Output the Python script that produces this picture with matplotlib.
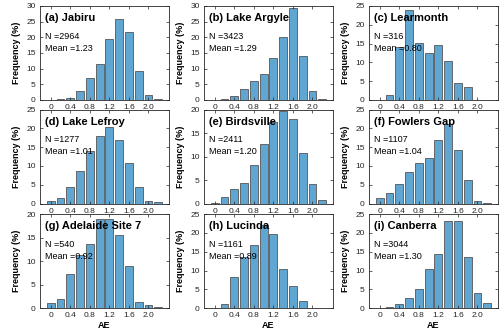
import matplotlib
matplotlib.use("Agg")
import matplotlib.pyplot as plt
import numpy as np

plt.rcParams['font.family'] = ['Liberation Sans', 'DejaVu Sans']

ae_bins = [0.0, 0.2, 0.4, 0.6, 0.8, 1.0, 1.2, 1.4, 1.6, 1.8, 2.0, 2.2]
x_ticks = [0, 0.4, 0.8, 1.2, 1.6, 2.0]
x_tick_labels = ['0', '0.4', '0.8', '1.2', '1.6', '2.0']

titles = ['(a) Jabiru', '(b) Lake Argyle', '(c) Learmonth',
          '(d) Lake Lefroy', '(e) Birdsville', '(f) Fowlers Gap',
          '(g) Adelaide Site 7', '(h) Lucinda', '(i) Canberra']
n_values = [2964, 3423, 316, 1277, 2411, 1107, 540, 1161, 3044]
mean_values = ['1.23', '1.29', '0.80', '1.01', '1.20', '1.04', '0.92', '0.89', '1.30']
y_max = [30, 30, 25, 25, 20, 25, 20, 25, 25]

freq_jabiru = [0.05, 0.2, 0.6, 2.9, 7.0, 11.6, 19.4, 25.8, 21.6, 9.3, 1.5, 0.2]
freq_lake_argyle = [0.05, 0.4, 1.4, 3.4, 6.1, 8.3, 13.5, 20.0, 29.4, 14.0, 2.9, 0.3]
freq_learmonth = [0.0, 1.3, 14.0, 24.0, 15.2, 12.6, 14.6, 10.4, 4.4, 3.5, 0.0, 0.0]
freq_lake_lefroy = [0.6, 1.4, 4.4, 8.6, 14.0, 18.1, 20.3, 17.0, 10.7, 4.4, 0.7, 0.3]
freq_birdsville = [0.05, 1.3, 3.0, 4.3, 8.3, 12.7, 17.3, 19.7, 17.9, 10.7, 4.1, 0.7]
freq_fowlers_gap = [1.5, 2.8, 5.2, 8.4, 10.7, 12.2, 16.9, 21.1, 14.2, 6.3, 0.6, 0.2]
freq_adelaide = [1.1, 2.0, 7.2, 11.3, 13.7, 19.0, 18.9, 15.6, 9.0, 1.3, 0.6, 0.2]
freq_lucinda = [0.0, 1.1, 8.2, 13.7, 16.8, 22.1, 19.7, 10.4, 5.9, 1.9, 0.1, 0.0]
freq_canberra = [0.0, 0.3, 1.0, 2.7, 5.2, 10.3, 14.3, 23.2, 23.2, 13.6, 4.1, 1.4]

all_freqs = [freq_jabiru, freq_lake_argyle, freq_learmonth,
             freq_lake_lefroy, freq_birdsville, freq_fowlers_gap,
             freq_adelaide, freq_lucinda, freq_canberra]

fig = plt.figure(figsize=(5.0, 3.31), dpi=100)

lefts = [0.08, 0.408, 0.738]
bottoms = [0.698, 0.385, 0.069]
w, h = 0.258, 0.284

bar_color = '#5fa6d3'
edge_color = '#555555'

for i in range(9):
    r, c = divmod(i, 3)
    ax = fig.add_axes([lefts[c], bottoms[r], w, h])
    ax.bar(ae_bins, all_freqs[i], width=0.16, color=bar_color,
           edgecolor=edge_color, linewidth=0.6)
    ax.set_xlim(-0.22, 2.42)
    ax.set_ylim(0, y_max[i])
    ax.set_xticks(x_ticks)
    ax.set_xticklabels(x_tick_labels)
    ax.set_yticks(np.arange(0, y_max[i] + 1, 5))
    ax.tick_params(axis='both', direction='in', labelsize=6, length=2,
                   width=0.5, colors='#262626', top=True, right=True, pad=3)
    ax.tick_params(axis='x', pad=3)
    for s in ax.spines.values():
        s.set_linewidth(0.6)
        s.set_color('#262626')
    ax.set_ylabel('Frequency (%)', fontsize=6.5, fontweight='bold', labelpad=4)
    if r == 2:
        ax.set_xlabel('AE', fontsize=6.5, fontweight='bold', labelpad=1)
    ax.text(0.04, 0.87, titles[i], transform=ax.transAxes, fontsize=8,
            fontweight='bold', va='center', ha='left')
    ax.text(0.04, 0.68, 'N =%d' % n_values[i], transform=ax.transAxes,
            fontsize=6.5, va='center', ha='left')
    ax.text(0.04, 0.55, 'Mean =%s' % mean_values[i], transform=ax.transAxes,
            fontsize=6.5, va='center', ha='left')

fig.savefig('out.png', dpi=100)
